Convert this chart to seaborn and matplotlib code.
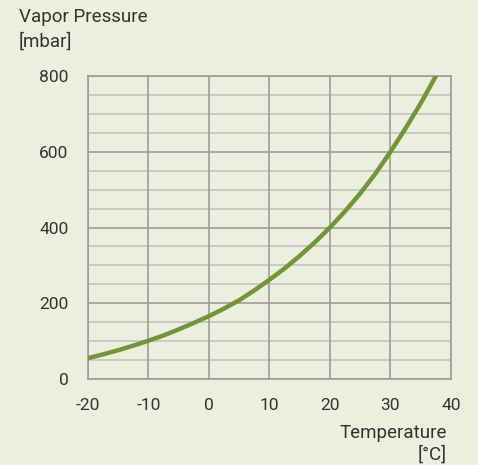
import numpy as np
import pandas as pd
import matplotlib
matplotlib.use("Agg")
import matplotlib.pyplot as plt
import seaborn as sns

# values
temperature = [-20, -17.5, -15, -12.5, -10, -7.5, -5, -2.5, 0, 2.5, 5, 7.5, 10,
               12.5, 15, 17.5, 20, 22.5, 25, 27.5, 30, 32.5, 35, 37.5]
pressure = [55, 65, 76, 88, 101, 115, 131, 148, 166, 186, 208, 234, 262,
            292, 325, 361, 400, 443, 490, 542, 600, 662, 728, 800]
x_ticks = [-20, -10, 0, 10, 20, 30, 40]
y_ticks = [0, 200, 400, 600, 800]
y_minor = [50, 100, 150, 250, 300, 350, 450, 500, 550, 650, 700, 750]

BG = "#eceee0"
LINE = "#6e9834"
TEXT = "#333333"

sns.set_style("white")
plt.rcParams["font.family"] = ["Roboto", "DejaVu Sans"]
plt.rcParams["axes.unicode_minus"] = False

df = pd.DataFrame({"T": temperature, "p": pressure})

fig = plt.figure(figsize=(4.78, 4.65), dpi=100, facecolor=BG)
ax = fig.add_axes([0.184, 0.185, 0.7595, 0.6515])
ax.set_facecolor(BG)

ax.set_xlim(-20, 40)
ax.set_ylim(0, 800)

for y in y_minor:
    ax.axhline(y, color="#c3c4bd", lw=1.2, zorder=1)
for y in y_ticks:
    ax.axhline(y, color="#9c9d98", lw=1.2, zorder=1)
for x in x_ticks:
    ax.axvline(x, color="#9c9d98", lw=1.2, zorder=1)

sns.lineplot(data=df, x="T", y="p", ax=ax, color=LINE, lw=3.2, zorder=3)

for s in ax.spines.values():
    s.set_color("#9c9d98")
    s.set_linewidth(1.2)

ax.set_xticks(x_ticks)
ax.set_yticks(y_ticks)
ax.tick_params(length=0, labelsize=12.5, labelcolor=TEXT)
ax.tick_params(axis="x", pad=14)
ax.tick_params(axis="y", pad=14)
ax.set_xlabel("")
ax.set_ylabel("")

fig.text(19 / 478, 1 - 17 / 465, "Vapor Pressure", fontsize=13.5, color=TEXT,
         ha="left", va="center")
fig.text(19 / 478, 1 - 42 / 465, "[mbar]", fontsize=13.5, color=TEXT,
         ha="left", va="center")
fig.text(447 / 478, 1 - 433 / 465, "Temperature", fontsize=13.5, color=TEXT,
         ha="right", va="center")
fig.text(447 / 478, 1 - 455 / 465, "[°C]", fontsize=13.5, color=TEXT,
         ha="right", va="center")

fig.savefig("out.png", dpi=100, facecolor=BG)
